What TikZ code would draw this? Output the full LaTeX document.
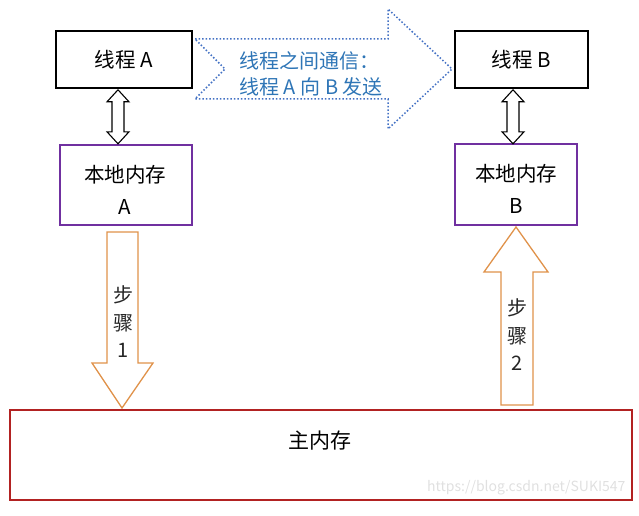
\documentclass[tikz,border=0pt]{standalone}
\usepackage{fontspec}
\setmainfont{Noto Sans CJK SC}
\definecolor{boxpurple}{HTML}{7030A0}
\definecolor{boxred}{HTML}{B22222}
\definecolor{arroworange}{HTML}{E0924A}
\definecolor{dotblue}{HTML}{4472C4}
\definecolor{textblue}{HTML}{2E75B6}
\tikzset{
  thread/.style={draw=black, line width=1.6pt, minimum width=136pt, minimum height=57pt, font=\fontsize{20.5}{24}\selectfont, inner sep=0pt},
  localmem/.style={draw=boxpurple, line width=1.6pt, inner sep=0pt},
  memtext/.style={font=\fontsize{20.5}{32}\selectfont, inner sep=0pt, align=center},
  mainmem/.style={draw=boxred, line width=1.6pt, inner sep=0pt},
  darrow/.style={draw=black, line width=1.1pt, fill=white, line join=miter},
  stepar/.style={draw=arroworange, line width=1.3pt, fill=white, line join=miter},
  steptext/.style={font=\fontsize{20}{27.5}\selectfont, align=center, text=black!85},
  blueflow/.style={draw=dotblue, line width=1.5pt, dotted, line join=miter},
}
\begin{document}
\begin{tikzpicture}[x=1pt, y=-1pt]
\useasboundingbox (0,0) rectangle (639,516);
% thread boxes
\node[thread] (ta) at (124,59.5) {线程 A};
\node[thread, minimum width=133pt] (tb) at (521.5,59.5) {线程 B};
% local memory boxes
\node[localmem, minimum width=132pt, minimum height=80pt] (la) at (126,185) {};
\node[memtext] (lat) at (125,190) {本地内存\\A};
\node[localmem, minimum width=122pt, minimum height=81pt] (lb) at (516,184.5) {};
\node[memtext] (lbt) at (516,189) {本地内存\\B};
% main memory
\node[mainmem, minimum width=622pt, minimum height=90pt] (mm) at (321,455) {};
\node[font=\fontsize{21}{24}\selectfont] (mmt) at (320,441) {主内存};
% blue communication arrow
\coordinate (ba1) at (195,39);
\draw[blueflow] (ba1) -- (388,39) -- (388,9) -- (452,69) -- (388,129) -- (388,99) -- (195,99) -- (225,69) -- cycle;
\node[text=textblue, font=\fontsize{20}{26}\selectfont, align=left, anchor=west] (bt) at (236,74) {线程之间通信：\\线程 A 向 B 发送};
% double arrows between thread and local memory
\draw[darrow] (ta.south -| 118,0) ++(0,1) coordinate (da1)
  -- ++(11,12) -- ++(-5,0) -- ++(0,30) -- ++(5,0) -- ++(-11,12) -- ++(-11,-12) -- ++(5,0) -- ++(0,-30) -- ++(-5,0) -- cycle;
\draw[darrow] (tb.south -| 513,0) ++(0,1) coordinate (db1)
  -- ++(11,12) -- ++(-5,0) -- ++(0,30) -- ++(5,0) -- ++(-11,12) -- ++(-11,-12) -- ++(5,0) -- ++(0,-30) -- ++(-5,0) -- cycle;
% step arrows
\draw[stepar] (107,232) coordinate (s1) -- (138,232) -- (138,363) -- (153,363) -- (122,408) -- (92,363) -- (107,363) -- cycle;
\node[steptext] (st1) at (123,322) {步\\骤\\1};
\draw[stepar] (501,405) coordinate (s2) -- (533,405) -- (533,272) -- (548,272) -- (516,227) -- (484,272) -- (501,272) -- cycle;
\node[steptext] (st2) at (517,335) {步\\骤\\2};
% watermark
\node[text=black!12, font=\fontsize{14}{16}\selectfont, anchor=east] (wm) at (629,488) {https://blog.csdn.net/SUKI547};
\end{tikzpicture}
\end{document}
